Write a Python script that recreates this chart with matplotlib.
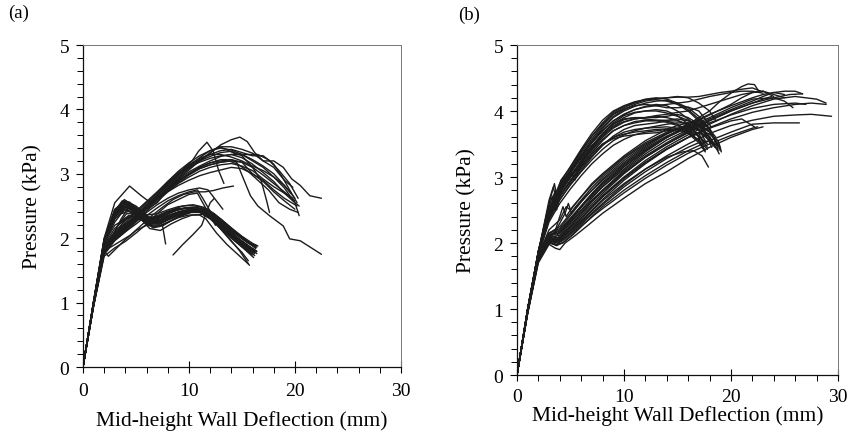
import numpy as np
import matplotlib
matplotlib.use("Agg")
import matplotlib.pyplot as plt
from matplotlib.ticker import MultipleLocator

plt.rcParams['font.family'] = ['Liberation Serif', 'DejaVu Serif']

# ---- (a) load-deflection curves, (deflection mm, pressure kPa) ----
a_low_curves = [
    [(0,0),(1,1.0),(2,1.95),(3,2.38),(3.8,2.55),(4.5,2.52),(5.5,2.38),(6.5,2.27),(7.5,2.3),(8.5,2.38),(9.5,2.43),(10.5,2.45),(11.5,2.42),(12.5,2.32),(13.5,2.18),(14.5,2.05),(15.5,1.93),(16.3,1.85)],
    [(0,0),(1,1.02),(2,1.98),(3,2.42),(3.7,2.58),(4.4,2.56),(5.4,2.42),(6.4,2.3),(7.4,2.33),(8.4,2.41),(9.4,2.46),(10.4,2.48),(11.4,2.45),(12.4,2.36),(13.4,2.22),(14.4,2.08),(15.4,1.96),(16.4,1.88)],
    [(0,0),(1,0.98),(2,1.9),(3,2.3),(4,2.45),(5,2.38),(6,2.25),(7,2.22),(8,2.3),(9,2.36),(10,2.4),(11,2.4),(12,2.3),(13,2.15),(14,2.0),(15,1.87),(16,1.74)],
    [(0,0),(1,1.0),(2,1.92),(3,2.33),(4.2,2.5),(5.2,2.4),(6.2,2.2),(7.2,2.18),(8.2,2.26),(9.2,2.34),(10.2,2.4),(11.2,2.41),(12.2,2.33),(13.2,2.19),(14.2,2.04),(15.2,1.9),(16.2,1.78)],
    [(0,0),(1,1.01),(2,1.96),(3,2.4),(3.9,2.6),(4.8,2.5),(5.8,2.35),(6.8,2.3),(7.8,2.36),(8.8,2.43),(9.8,2.47),(10.8,2.47),(11.8,2.4),(12.8,2.27),(13.8,2.12),(14.8,1.98),(15.8,1.86),(16.4,1.8)],
    [(0,0),(1,0.99),(2,1.93),(3,2.2),(3.5,2.25),(4.3,2.35),(5.3,2.33),(6.3,2.15),(7.3,2.12),(8.3,2.22),(9.3,2.3),(10.3,2.36),(11.3,2.37),(12.3,2.28),(13.3,2.12),(14.3,1.96),(15.3,1.82),(16.1,1.7)],
    [(0,0),(1,0.97),(2,1.85),(2.6,1.95),(3.2,2.0),(4,2.15),(5,2.28),(6,2.3),(7,2.3),(8,2.35),(9,2.4),(10,2.42),(11,2.42),(12,2.33),(13,2.18),(14,2.03),(15,1.9),(16,1.78)],
    [(0,0),(1,1.0),(2,1.9),(2.8,2.0),(3.4,2.15),(4,2.3),(5,2.35),(6,2.22),(7,2.2),(8,2.28),(9,2.35),(10,2.4),(11,2.43),(12,2.36),(13,2.2),(14,2.05),(15,1.92),(16.2,1.76)],
    [(0,0),(1,1.0),(2,1.96),(3,2.44),(4,2.56),(5,2.46),(6,2.3),(7,2.35),(8,2.42),(9,2.46),(10,2.47),(11,2.43),(11.8,2.35),(12.8,2.18),(13.8,2.0),(14.8,1.8),(15.7,1.58)],
    [(0,0),(1,1.0),(2,1.94),(3,2.36),(4,2.5),(5,2.4),(6,2.26),(7,2.26),(8,2.33),(9,2.39),(10,2.43),(11,2.43),(12,2.32),(13,2.14),(14,1.95),(15,1.78),(15.6,1.65)],
    [(0,0),(1,1.01),(2,1.97),(3,2.4),(4,2.54),(5,2.44),(6,2.32),(7,2.33),(8,2.4),(9,2.45),(10,2.48),(11,2.47),(12,2.4),(13,2.27),(14,2.13),(15,2.0),(16,1.9),(16.4,1.86)],
    [(0,0),(1,0.99),(2,1.93),(3,2.3),(4,2.44),(5,2.36),(6,2.22),(7,2.24),(8,2.32),(9,2.38),(10,2.42),(11,2.41),(12,2.32),(13,2.17),(14,2.02),(15,1.88),(16,1.76),(16.2,1.73)],
    [(0,0),(1,1.0),(2,1.95),(3,2.35),(3.8,2.48),(4.6,2.45),(5.6,2.3),(6.6,2.16),(7.6,2.2),(8.6,2.3),(9.6,2.38),(10.6,2.42),(11.6,2.4),(12.6,2.3),(13.6,2.15),(14.6,2.0),(15.6,1.86),(16.2,1.8)],
    [(0,0),(1,0.98),(2,1.88),(3,2.1),(3.6,2.3),(4.4,2.5),(5.4,2.45),(6.4,2.3),(7.4,2.36),(8.4,2.44),(9.4,2.5),(10.4,2.52),(11.4,2.48),(12.4,2.38),(13.4,2.24),(14.4,2.1),(15.4,1.97),(16.3,1.84)],
    [(0,0),(1,1.0),(2,1.94),(3,2.37),(4,2.52),(5,2.42),(6,2.28),(7,2.3),(7.5,2.2),(7.8,1.91)],
    [(0,0),(1,0.96),(2,1.8),(2.4,1.72),(3.2,1.85),(4,1.98),(5,2.12),(6,2.2),(7,2.18),(8,2.25),(9,2.32),(10,2.36),(11,2.36),(11.6,2.3),(12.6,2.08),(13.6,1.9),(14.6,1.75),(15.6,1.6)],
    [(8.5,1.74),(9.4,1.9),(10.4,2.06),(11.2,2.2),(11.6,2.38),(12.0,2.55),(12.4,2.62)],
    [(0,0),(1,1.01),(2,1.97),(3,2.43),(3.9,2.57),(4.7,2.5),(5.7,2.36),(6.7,2.26),(7.7,2.3),(8.7,2.37),(9.7,2.42),(10.7,2.44),(11.7,2.4),(12.7,2.28),(13.7,2.13),(14.7,1.99),(15.7,1.87),(16.4,1.79)],
    [(0,0),(1,0.99),(2,1.94),(3,2.34),(4,2.48),(5,2.4),(6,2.27),(7,2.27),(8,2.35),(9,2.41),(10,2.45),(11,2.45),(12,2.37),(13,2.23),(14,2.08),(15,1.95),(16,1.83),(16.3,1.8)],
    [(0,0),(1,1.0),(2,1.93),(3,2.25),(3.6,2.38),(4.4,2.42),(5.4,2.36),(6.4,2.24),(7.4,2.25),(8.4,2.33),(9.4,2.4),(10.4,2.44),(11.4,2.43),(12.4,2.33),(13.4,2.18),(14.4,2.03),(15.4,1.9),(16.2,1.82)],
    [(0,0),(1,1.02),(2,1.99),(3,2.45),(4,2.58),(5,2.5),(6,2.36),(7,2.38),(8,2.44),(9,2.49),(10,2.51),(11,2.49),(12,2.42),(13,2.3),(14,2.16),(15,2.03),(16,1.92),(16.5,1.88)],
    [(0,0),(1,0.98),(2,1.89),(2.7,2.0),(3.3,2.2),(4.1,2.38),(5,2.38),(6,2.24),(7,2.22),(8,2.29),(9,2.36),(10,2.41),(11,2.42),(12,2.34),(13,2.19),(14,2.04),(15,1.9),(16,1.77)],
    [(0,0),(1,1.0),(2,1.95),(3,2.38),(4,2.53),(5,2.44),(6,2.3),(7,2.32),(8,2.4),(9,2.45),(10,2.47),(11,2.44),(12,2.34),(13,2.2),(14,2.07),(15,1.93),(16,1.82),(16.4,1.76)],
]

a_high_curves = [
    [(0,0),(1,0.95),(2,1.78),(3,1.98),(4,2.12),(5,2.28),(6,2.45),(7,2.62),(8,2.8),(9,2.95),(10,3.08),(11,3.2),(12,3.32),(13,3.45),(14,3.53),(14.8,3.57),(15.5,3.5),(16.2,3.33),(17,3.2),(18,3.2),(18.9,3.1),(19.7,2.92),(20.5,2.82),(21.4,2.66),(22.5,2.62)],
    [(0,0),(1,0.96),(2,1.8),(3,2.0),(4,2.15),(5,2.3),(6,2.45),(7,2.6),(8,2.75),(9,2.88),(10,3.0),(11,3.1),(12,3.17),(13,3.22),(14,3.22),(14.5,3.18),(15.2,2.9),(15.8,2.66),(16.5,2.5),(17.6,2.35),(18.9,2.19),(19.5,1.99),(20.5,1.96),(22.5,1.75)],
    [(0,0),(1,1.0),(2,1.9),(3,2.15),(4,2.3),(5,2.4),(6,2.45),(7,2.55),(8,2.75),(9,2.88),(9.6,3.1),(10.3,3.2),(10.9,3.35),(11.7,3.49),(12.3,3.35),(12.8,3.05),(13.3,2.85)],
    [(0,0),(1,0.97),(2,1.82),(3,2.02),(4,2.18),(5,2.32),(6,2.47),(7,2.62),(8,2.78),(9,2.93),(10,3.06),(11,3.2),(12,3.33),(12.8,3.42),(13.5,3.38),(14.5,3.3),(15.5,3.3),(16.5,3.3),(17.5,3.22),(18.5,3.05),(19.5,2.85),(20.3,2.62)],
    [(0,0),(1,0.95),(2,1.76),(3,1.96),(4,2.1),(5,2.25),(6,2.42),(7,2.57),(8,2.72),(9,2.86),(10,2.98),(11,3.08),(12,3.14),(13,3.18),(14,3.2),(15,3.18),(16,3.0),(17,2.9),(18,2.75),(19,2.62),(20.2,2.5)],
    [(0,0),(1,0.96),(2,1.79),(3,1.99),(4,2.14),(5,2.3),(6,2.46),(7,2.62),(8,2.78),(9,2.92),(10,3.03),(11,3.12),(12,3.2),(13,3.27),(14,3.3),(15,3.3),(16,3.2),(17,3.1),(18,2.95),(19,2.78),(20,2.55),(20.4,2.35)],
    [(0,0),(1,0.98),(2,1.85),(3,2.05),(4,2.2),(5,2.35),(6,2.5),(7,2.65),(8,2.82),(9,2.97),(10,3.1),(11,3.2),(12,3.27),(13,3.33),(14,3.35),(15,3.28),(16,3.1),(16.8,2.9),(17.3,2.6),(17.6,2.4)],
    [(0,0),(1,0.97),(2,1.83),(3,2.03),(4,2.17),(5,2.32),(6,2.47),(7,2.6),(8,2.73),(9,2.85),(10,2.95),(11,3.04),(12,3.1),(13,3.14),(14,3.16),(15,3.12),(16,3.05),(17,2.92),(18,2.8),(19,2.7),(19.8,2.62)],
    [(0,0),(1,0.99),(2,1.88),(3,2.08),(4,2.22),(5,2.36),(6,2.5),(7,2.66),(8,2.83),(9,2.99),(10,3.12),(11,3.25),(12,3.36),(13,3.42),(14,3.42),(15,3.38),(16,3.32),(17,3.2),(18,3.1),(19,2.9),(19.8,2.79)],
    [(0,0),(1,0.96),(2,1.8),(3,2.0),(4,2.16),(5,2.33),(6,2.48),(7,2.63),(8,2.77),(9,2.9),(10,3.0),(11,3.08),(12,3.14),(13,3.18),(13.8,3.2),(14.6,3.15),(15.5,3.05),(16.5,2.9),(17.5,2.75),(18.5,2.55),(19.5,2.45),(20.3,2.4)],
    [(0,0),(1,1.0),(2,2.0),(3,2.55),(4.4,2.81),(5.5,2.66),(6.3,2.56),(7,2.62),(8,2.76),(9,2.9),(10,3.0),(11,3.1),(12,3.17),(13,3.2),(14,3.22),(15,3.18),(16,3.1),(17,2.98),(18,2.85),(19,2.72),(20,2.58)],
    [(0,0),(1,0.95),(2,1.75),(2.5,1.85),(3.5,1.95),(4.5,2.05),(5.5,2.2),(6.5,2.35),(7.5,2.48),(8.5,2.6),(9.5,2.68),(10.5,2.72),(11.5,2.72),(12.3,2.74),(13.2,2.78),(14.2,2.81)],
    [(0,0),(1,0.94),(2,1.72),(3,1.85),(4,1.95),(5,2.08),(6,2.22),(7,2.38),(8,2.52),(9,2.6),(10,2.68),(10.8,2.7),(11.3,2.55),(12,2.35),(12.5,2.2)],
    [(0,0),(1,0.97),(2,1.84),(3,2.04),(4,2.19),(5,2.34),(6,2.5),(7,2.67),(8,2.85),(9,3.0),(10,3.12),(11,3.22),(12,3.3),(13,3.36),(14,3.38),(15,3.33),(16,3.28),(17,3.28),(18,3.15),(18.8,2.95),(19.5,2.75),(20.2,2.55)],
    [(0,0),(1,0.98),(2,1.86),(3,2.06),(4,2.2),(5,2.34),(6,2.47),(7,2.6),(8,2.72),(9,2.82),(10,2.9),(11,2.97),(12,3.02),(13,3.06),(14,3.1),(15,3.08),(16,3.0),(17,2.88),(18,2.72),(19,2.58),(20,2.45)],
    [(0,0),(1,0.97),(2,1.83),(3,2.06),(4,2.24),(5,2.4),(6,2.55),(7,2.7),(8,2.86),(9,3.0),(10,3.1),(11,3.18),(12,3.24),(13,3.28),(14,3.3),(15,3.25),(16,3.15),(17,3.02),(18,2.88),(19,2.7),(20,2.55),(20.4,2.5)],
    [(0,0),(1,0.96),(2,1.8),(3,2.0),(4,2.13),(5,2.27),(6,2.4),(7,2.52),(8,2.62),(9,2.7),(10,2.75),(11,2.78),(11.8,2.75),(12.5,2.6),(13.2,2.45)],
    [(0,0),(1,0.98),(2,1.87),(3,2.1),(4,2.27),(5,2.42),(6,2.57),(7,2.72),(8,2.88),(9,3.02),(10,3.14),(11,3.24),(12,3.3),(13,3.3),(14,3.26),(15,3.2),(16,3.12),(17,3.05),(18,2.95),(19,2.82),(20,2.62)],
    [(0,0),(1,0.95),(2,1.77),(3,1.97),(4,2.1),(5,2.22),(6,2.35),(7,2.47),(8,2.58),(9,2.66),(10,2.72),(10.8,2.75),(11.3,2.62),(12,2.42),(12.6,2.3)],
    [(0,0),(1,0.97),(2,1.84),(3,2.05),(4,2.2),(5,2.36),(6,2.53),(7,2.7),(8,2.88),(9,3.04),(10,3.17),(11,3.28),(12,3.36),(13,3.4),(14,3.37),(15,3.3),(16,3.22),(17,3.12),(18,3.0),(19,2.82),(19.6,2.7)],
]

# ---- (b) load-deflection curves ----
b_steep_curves = [
    [(0,0),(1,1.0),(2,1.88),(3,2.5),(4,2.85),(5,3.1),(6,3.35),(7,3.58),(8,3.78),(9,3.96),(10,4.05),(11,4.12),(12,4.17),(13,4.19),(14,4.2),(15,4.22),(16,4.2),(17,4.12),(18,4.0),(18.6,3.85)],
    [(0,0),(1,1.0),(2,1.86),(3,2.45),(4,2.8),(5,3.05),(6,3.3),(7,3.53),(8,3.73),(9,3.9),(10,4.0),(11,4.07),(12,4.12),(13,4.15),(14,4.16),(15,4.12),(16,4.05),(17,3.92),(17.6,3.8)],
    [(0,0),(1,1.0),(2,1.87),(3,2.6),(3.6,2.78),(3.8,2.6),(4.3,2.92),(5,3.1),(6,3.32),(7,3.52),(8,3.7),(9,3.85),(10,3.95),(11,4.02),(12,4.07),(13,4.1),(14,4.08),(15,4.0),(16,3.88),(17,3.72),(18,3.55)],
    [(0,0),(1,0.99),(2,1.84),(3,2.4),(4,2.75),(5,3.0),(6,3.22),(7,3.44),(8,3.62),(9,3.77),(10,3.87),(11,3.9),(12,3.9),(13,3.9),(14,3.92),(15,3.95),(16,3.9),(17,3.8),(18,3.6),(18.5,3.45)],
    [(0,0),(1,0.99),(2,1.83),(3,2.38),(4,2.7),(5,2.95),(6,3.17),(7,3.37),(8,3.55),(9,3.7),(10,3.78),(11,3.84),(12,3.86),(13,3.86),(14,3.85),(15,3.8),(16,3.7),(17,3.55),(17.6,3.4)],
    [(0,0),(1,1.0),(2,1.88),(3,2.55),(3.3,2.7),(3.6,2.5),(4.0,2.75),(4.6,2.95),(5.1,3.07),(5.4,2.95),(6,3.2),(7,3.45),(8,3.65),(9,3.8),(10,3.9),(11,3.97),(12,4.0),(13,4.02),(14,4.0),(15,3.93),(16,3.8),(17,3.62),(17.8,3.45)],
    [(0,0),(1,0.98),(2,1.82),(3,2.35),(4,2.65),(5,2.9),(6,3.1),(7,3.3),(8,3.48),(9,3.62),(10,3.72),(11,3.78),(12,3.8),(13,3.82),(14,3.85),(15,3.85),(16,3.8),(17,3.7),(18,3.55),(18.8,3.4)],
    [(0,0),(1,1.0),(2,1.86),(3,2.48),(4,2.82),(5,3.08),(6,3.32),(7,3.55),(8,3.75),(9,3.92),(10,4.02),(11,4.1),(12,4.15),(13,4.18),(14,4.2),(15,4.21),(16,4.21),(17,4.22),(18,4.25),(19,4.28),(20,4.3),(21,4.33),(22,4.35),(22.8,4.3)],
    [(0,0),(1,0.99),(2,1.85),(3,2.42),(4,2.78),(5,3.02),(6,3.25),(7,3.47),(8,3.66),(9,3.8),(10,3.88),(11,3.9),(12,3.88),(13,3.86),(14,3.86),(15,3.88),(16,3.85),(17,3.78),(17.8,3.65),(18.2,3.5)],
    [(0,0),(1,0.98),(2,1.83),(3,2.42),(3.5,2.72),(3.7,2.5),(4.2,2.85),(5,3.0),(6,3.2),(7,3.4),(8,3.57),(9,3.7),(10,3.78),(11,3.82),(12,3.85),(13,3.85),(14,3.83),(15,3.78),(16,3.68),(17,3.55),(17.5,3.42)],
    [(0,0),(1,1.0),(2,1.87),(3,2.5),(4,2.87),(5,3.12),(6,3.38),(7,3.62),(8,3.82),(9,3.98),(10,4.07),(11,4.13),(12,4.18),(13,4.2),(14,4.18),(15,4.12),(16,4.02),(17,3.88),(18,3.72),(18.6,3.6)],
    [(0,0),(1,0.99),(2,1.84),(3,2.4),(4,2.72),(5,2.95),(6,3.15),(7,3.35),(8,3.5),(9,3.6),(10,3.65),(11,3.68),(12,3.7),(13,3.72),(14,3.73),(15,3.72),(16,3.66),(17,3.56),(17.8,3.42)],
    [(0,0),(1,1.0),(2,1.85),(3,2.45),(4,2.78),(5,3.0),(6,3.22),(7,3.42),(8,3.6),(9,3.74),(10,3.83),(11,3.88),(12,3.9),(13,3.93),(14,3.95),(15,3.98),(16,4.0),(17,4.05),(18,4.1),(19,4.15),(20,4.2),(21,4.25),(22,4.28),(23,4.3),(24,4.25),(25,4.2)],
    [(0,0),(1,0.99),(2,1.86),(3,2.65),(3.4,2.85),(3.6,2.7),(4.1,2.95),(5,3.15),(6,3.4),(7,3.62),(8,3.8),(9,3.95),(10,4.03),(11,4.08),(12,4.1),(13,4.08),(14,4.05),(15,4.05),(16,4.06),(17,4.0),(17.5,3.9),(18.2,3.75)],
    [(0,0),(1,1.0),(2,1.87),(3,2.48),(4,2.8),(5,3.0),(6,3.18),(7,3.35),(8,3.5),(9,3.58),(10,3.62),(11,3.64),(12,3.66),(13,3.67),(14,3.7),(15,3.72),(16,3.73),(17,3.72),(18,3.65),(18.8,3.55),(19,3.45)],
    [(0,0),(1,0.99),(2,1.85),(3,2.44),(4,2.76),(5,3.0),(6,3.24),(7,3.46),(8,3.66),(9,3.82),(10,3.93),(11,3.98),(12,4.0),(13,4.0),(14,3.97),(15,3.92),(16,3.86),(17,3.78),(17.6,3.65)],
    [(0,0),(1,0.98),(2,1.82),(3,2.32),(4,2.6),(5,2.82),(6,3.02),(7,3.2),(8,3.35),(9,3.48),(10,3.57),(11,3.64),(12,3.68),(13,3.7),(14,3.72),(15,3.73),(16,3.7),(17,3.62),(17.8,3.5)],
    [(0,0),(1,1.0),(2,1.87),(3,2.52),(4,2.9),(5,3.16),(6,3.42),(7,3.66),(8,3.86),(9,4.0),(10,4.08),(11,4.14),(12,4.17),(13,4.17),(14,4.15),(15,4.1),(16,4.0),(17,3.85),(17.8,3.7)],
    [(0,0),(1,0.99),(2,1.85),(3,2.6),(3.5,2.9),(3.7,2.72),(4.2,2.95),(5,3.08),(6,3.28),(7,3.48),(8,3.64),(9,3.76),(10,3.84),(11,3.88),(12,3.9),(13,3.92),(14,3.9),(15,3.86),(16,3.78),(16.8,3.65),(17.3,3.5)],
    [(0,0),(1,0.98),(2,1.83),(3,2.36),(4,2.66),(5,2.88),(6,3.08),(7,3.26),(8,3.42),(9,3.55),(10,3.64),(11,3.7),(12,3.74),(13,3.77),(14,3.8),(15,3.82),(16,3.82),(17,3.78),(18,3.68),(18.5,3.55)],
    [(0,0),(1,1.0),(2,1.86),(3,2.47),(4,2.83),(5,3.08),(6,3.3),(7,3.52),(8,3.7),(9,3.85),(10,3.95),(11,4.02),(12,4.06),(13,4.08),(14,4.1),(15,4.12),(16,4.14),(17,4.18),(18,4.22),(19,4.25),(20,4.28),(21,4.3),(22,4.3),(23,4.27)],
    [(0,0),(1,0.99),(2,1.84),(3,2.4),(4,2.7),(5,2.93),(6,3.13),(7,3.32),(8,3.48),(9,3.6),(10,3.68),(11,3.72),(12,3.74),(13,3.75),(14,3.76),(15,3.74),(16,3.66),(17,3.52),(17.6,3.38)],
]

b_gradual_curves = [
    [(0,0),(1,0.93),(2,1.7),(3,1.98),(3.6,1.92),(4,1.9),(4.5,2.0),(5.5,2.12),(6.5,2.25),(8,2.45),(10,2.68),(12,2.9),(14,3.08),(15,3.18),(16,3.28),(18,3.45),(20,3.6),(22,3.72),(23,3.76)],
    [(0,0),(1,0.94),(2,1.72),(3,2.0),(3.7,1.97),(4.3,2.0),(5,2.1),(6,2.25),(7,2.4),(8,2.55),(10,2.8),(12,3.02),(14,3.22),(16,3.4),(18,3.55),(20,3.68),(22,3.8),(24,3.82),(26.4,3.82)],
    [(0,0),(1,0.95),(2,1.75),(3,2.03),(3.8,2.0),(4.5,2.08),(5.5,2.22),(6.5,2.38),(8,2.6),(10,2.88),(12,3.12),(14,3.32),(16,3.5),(18,3.66),(20,3.78),(22,3.86),(24,3.92),(26,3.94),(27.5,3.95),(29.4,3.92)],
    [(0,0),(1,0.95),(2,1.74),(3,2.04),(3.6,2.02),(4.4,2.1),(5.5,2.26),(6.5,2.42),(8,2.66),(10,2.95),(12,3.2),(14,3.42),(16,3.6),(18,3.75),(20,3.88),(22,3.98),(24,4.05),(26,4.1),(27.5,4.12),(28.9,4.1)],
    [(0,0),(1,0.96),(2,1.77),(3,2.07),(3.7,2.05),(4.5,2.15),(5.5,2.32),(6.5,2.5),(8,2.75),(10,3.05),(12,3.3),(14,3.5),(16,3.68),(18,3.85),(20,4.0),(22,4.12),(24,4.2),(25.5,4.25),(26.7,4.26)],
    [(0,0),(1,0.96),(2,1.76),(3,2.06),(3.8,2.02),(4.6,2.1),(5.6,2.26),(6.6,2.42),(8,2.64),(10,2.9),(12,3.12),(14,3.3),(15.5,3.38),(16.5,3.4),(17.3,3.32),(17.9,3.15)],
    [(0,0),(1,0.97),(2,1.78),(3,2.1),(3.6,2.1),(4.3,2.2),(5.3,2.4),(6.3,2.6),(8,2.85),(10,3.12),(12,3.38),(14,3.6),(16,3.8),(18,4.0),(19,4.15),(20,4.27),(21,4.37),(21.6,4.41),(22.2,4.4),(22.6,4.3)],
    [(0,0),(1,0.97),(2,1.79),(3,2.12),(4,2.15),(5,2.32),(6,2.5),(7,2.68),(8,2.85),(10,3.15),(12,3.4),(14,3.6),(16,3.75),(17,3.78),(18,3.7),(18.8,3.5),(19,3.4)],
    [(0,0),(1,0.96),(2,1.76),(3,2.08),(3.9,2.05),(4.6,2.14),(5.6,2.3),(6.6,2.48),(8,2.72),(10,3.0),(12,3.25),(14,3.46),(16,3.64),(18,3.8),(20,3.95),(22,4.08),(24,4.18),(25,4.2),(26,4.22),(27,4.2),(28,4.18),(28.9,4.12)],
    [(0,0),(1,0.98),(2,1.8),(3,2.15),(4,2.22),(5,2.42),(6,2.62),(7,2.8),(8,2.97),(10,3.25),(12,3.48),(14,3.66),(16,3.8),(17,3.85),(17.8,3.78),(18.4,3.6),(18.8,3.42)],
    [(0,0),(1,0.97),(2,1.78),(3,2.1),(3.5,2.15),(4,2.3),(4.5,2.45),(4.8,2.6),(5.1,2.45),(5.5,2.55),(6.5,2.72),(8,2.95),(10,3.22),(12,3.46),(14,3.65),(16,3.8),(18,3.95),(20,4.08),(22,4.2),(23,4.25),(24,4.28),(25,4.25)],
    [(0,0),(1,0.95),(2,1.74),(3,2.02),(3.7,1.98),(4.5,2.06),(5.5,2.2),(6.5,2.36),(8,2.58),(10,2.85),(12,3.08),(14,3.28),(16,3.45),(17,3.52),(18,3.55),(19,3.45),(19.1,3.38)],
    [(0,0),(1,0.97),(2,1.8),(3,2.15),(4,2.25),(5,2.45),(6,2.65),(7,2.84),(8,3.0),(10,3.28),(12,3.5),(14,3.66),(15,3.72),(16,3.73),(17,3.66),(17.5,3.5)],
    [(0,0),(1,0.96),(2,1.77),(3,2.08),(4,2.12),(5,2.3),(6,2.48),(7,2.65),(8,2.8),(10,3.08),(12,3.32),(14,3.52),(16,3.7),(18,3.86),(20,4.0),(22,4.12),(23,4.18),(23.8,4.22)],
    [(0,0),(1,0.96),(2,1.78),(3,2.1),(3.8,2.08),(4.6,2.2),(5.6,2.38),(6.6,2.56),(8,2.8),(10,3.1),(12,3.35),(14,3.56),(16,3.72),(18,3.88),(20,4.02),(22,4.15),(23,4.22),(24,4.28),(25,4.3),(26,4.3),(26.7,4.26)],
    [(0,0),(1,0.95),(2,1.75),(3,2.05),(4,2.05),(5,2.2),(6,2.38),(7,2.55),(8,2.7),(10,2.98),(12,3.22),(14,3.42),(16,3.6),(18,3.74),(20,3.85),(21,3.88),(21.6,3.82),(22.2,3.76)],
    [(0,0),(1,0.97),(2,1.79),(3,2.12),(4,2.2),(5,2.38),(6,2.56),(7,2.74),(8,2.9),(10,3.18),(12,3.42),(14,3.6),(16,3.76),(18,3.9),(20,4.05),(22,4.18),(24,4.2),(25,4.15),(25.8,4.05)],
    [(0,0),(1,0.98),(2,1.82),(3,2.2),(4,2.35),(4.6,2.55),(5,2.5),(6,2.7),(7,2.9),(8,3.05),(10,3.32),(12,3.55),(14,3.72),(15,3.78),(16,3.82),(17,3.8),(17.8,3.6),(18.2,3.45)],
    [(0,0),(1,0.96),(2,1.77),(3,2.06),(3.8,2.04),(4.6,2.14),(5.6,2.3),(6.6,2.47),(8,2.7),(10,2.98),(12,3.22),(14,3.43),(16,3.6),(17,3.66),(18,3.62),(18.6,3.45),(18.9,3.35)],
    [(0,0),(1,0.97),(2,1.8),(3,2.14),(3.6,2.2),(4,2.4),(4.3,2.55),(4.6,2.4),(5.2,2.55),(6,2.7),(7,2.88),(8,3.03),(10,3.3),(12,3.52),(14,3.68),(15,3.74),(16,3.77),(17,3.72),(17.6,3.55)],
    [(0,0),(1,0.95),(2,1.76),(3,2.06),(4,2.08),(5,2.25),(6,2.44),(7,2.62),(8,2.78),(10,3.06),(12,3.3),(14,3.5),(16,3.67),(18,3.82),(20,3.94),(22,4.04),(24,4.1),(26,4.12),(27,4.1)],
    [(0,0),(1,0.96),(2,1.78),(3,2.1),(4,2.16),(5,2.35),(6,2.54),(7,2.72),(8,2.88),(10,3.16),(12,3.4),(14,3.6),(16,3.78),(18,3.94),(20,4.1),(21,4.2),(22,4.28),(23,4.3),(24,4.22)],
    [(0,0),(1,0.94),(2,1.73),(3,2.01),(3.7,1.96),(4.4,2.02),(5.2,2.12),(6.2,2.28),(7.2,2.42),(8,2.52),(10,2.76),(12,2.98),(14,3.18),(16,3.36),(18,3.5),(20,3.63),(22,3.74),(22.5,3.76)],
    [(0,0),(1,0.97),(2,1.79),(3,2.12),(4,2.18),(5,2.36),(6,2.56),(7,2.75),(8,2.92),(10,3.2),(12,3.44),(14,3.62),(16,3.76),(17,3.8),(18,3.75),(18.5,3.55),(18.9,3.45)],
]

x_label = "Mid-height Wall Deflection (mm)"
y_label = "Pressure (kPa)"
panel_tags = ["(a)", "(b)"]

LINE_COLOR = "#1c1c1c"
TICK_SIZE = 14
LABEL_SIZE = 15.5

fig = plt.figure(figsize=(8.5, 4.39), dpi=100)
ax_a = fig.add_axes([0.0976, 0.1617, 0.3741, 0.7335])
ax_b = fig.add_axes([0.6082, 0.1435, 0.3776, 0.7517])


def style_axes(ax, tick_pad, xlabel_pad):
    ax.set_xlim(0, 30)
    ax.set_ylim(0, 5)
    ax.xaxis.set_major_locator(MultipleLocator(10))
    ax.xaxis.set_minor_locator(MultipleLocator(2))
    ax.yaxis.set_major_locator(MultipleLocator(1))
    ax.yaxis.set_minor_locator(MultipleLocator(0.2))
    ax.tick_params(axis='x', which='major', direction='inout', length=8, width=0.8,
                   labelsize=TICK_SIZE, pad=tick_pad)
    ax.tick_params(axis='x', which='minor', direction='out', length=4, width=0.7)
    ax.tick_params(axis='y', which='major', direction='out', length=5, width=0.8,
                   labelsize=TICK_SIZE, pad=5)
    ax.tick_params(axis='y', which='minor', direction='out', length=4, width=0.7)
    for side in ('left', 'bottom'):
        ax.spines[side].set_linewidth(0.9)
        ax.spines[side].set_color('#111111')
    for side in ('top', 'right'):
        ax.spines[side].set_linewidth(0.7)
        ax.spines[side].set_color('#777777')
    ax.set_xlabel(x_label, fontsize=LABEL_SIZE, labelpad=xlabel_pad)
    ax.set_ylabel(y_label, fontsize=LABEL_SIZE, labelpad=12)


def draw_curves(ax, curves):
    for pts in curves:
        arr = np.asarray(pts, dtype=float)
        ax.plot(arr[:, 0], arr[:, 1], color=LINE_COLOR, lw=1.0,
                solid_joinstyle='round', solid_capstyle='round')


draw_curves(ax_a, a_low_curves)
draw_curves(ax_a, a_high_curves)
draw_curves(ax_b, b_steep_curves)
draw_curves(ax_b, b_gradual_curves)

style_axes(ax_a, 7, 8)
style_axes(ax_b, 5, 0.5)

fig.text(0.009, 0.99, panel_tags[0], fontsize=13.5, va='top', ha='left')
fig.text(0.539, 0.985, panel_tags[1], fontsize=13.5, va='top', ha='left')

fig.savefig("out.png", dpi=100)
